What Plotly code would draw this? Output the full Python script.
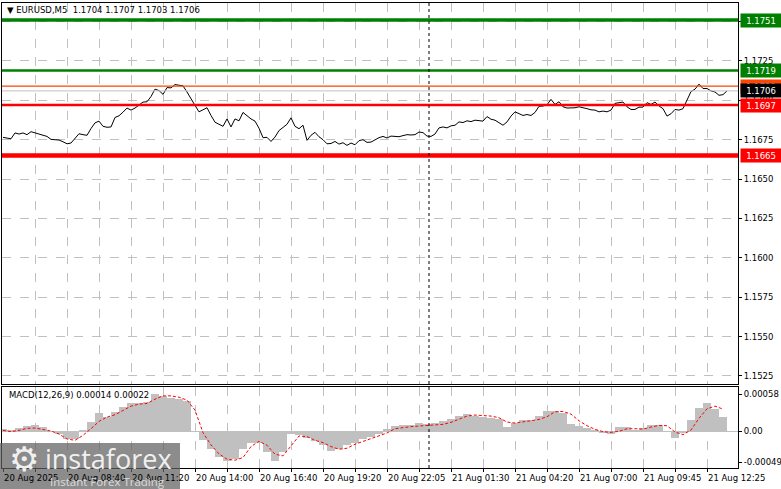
import plotly.graph_objects as go
from plotly.subplots import make_subplots

# ---------------- data ----------------
symbol_title = "▼ EURUSD,M5  1.1704 1.1707 1.1703 1.1706"
macd_title = "MACD(12,26,9) 0.00014 0.00022"

# bar index (5-minute bars) of each sampled close
price_idx = list(range(0, 364, 2))
price_close = [
    1.16765, 1.16761, 1.16756, 1.16793, 1.16786, 1.16793, 1.16782, 1.16801, 1.16793, 1.16784,
    1.16778, 1.16771, 1.16752, 1.16750, 1.16748, 1.16737, 1.16724, 1.16729, 1.16759, 1.16788,
    1.16782, 1.16778, 1.16821, 1.16857, 1.16868, 1.16835, 1.16829, 1.16831, 1.16891, 1.16902,
    1.16925, 1.16951, 1.16938, 1.16951, 1.16970, 1.16989, 1.16991, 1.17024, 1.17071, 1.17062,
    1.17038, 1.17081, 1.17079, 1.17100, 1.17096, 1.17092, 1.17053, 1.17006,
    1.16968, 1.16927, 1.16938, 1.16953, 1.16904, 1.16861, 1.16848, 1.16835, 1.16882, 1.16831,
    1.16882, 1.16870, 1.16923, 1.16900, 1.16882, 1.16868, 1.16823, 1.16763, 1.16765, 1.16739,
    1.16767, 1.16808, 1.16827, 1.16848, 1.16889, 1.16835, 1.16820, 1.16842, 1.16746, 1.16778,
    1.16797, 1.16769, 1.16750, 1.16724, 1.16726, 1.16739, 1.16722, 1.16731, 1.16714, 1.16729,
    1.16718, 1.16744, 1.16750, 1.16733, 1.16735,
    1.16750, 1.16763, 1.16771, 1.16761, 1.16773, 1.16769, 1.16769, 1.16776, 1.16782, 1.16780,
    1.16782, 1.16799, 1.16795, 1.16773, 1.16771, 1.16786, 1.16825, 1.16831, 1.16825, 1.16838,
    1.16842, 1.16863, 1.16859, 1.16870, 1.16865, 1.16874, 1.16872, 1.16868, 1.16897, 1.16880,
    1.16874, 1.16859, 1.16842, 1.16863, 1.16900, 1.16927, 1.16917, 1.16904, 1.16910, 1.16904,
    1.16923, 1.16962, 1.16964, 1.16972, 1.17006, 1.16974, 1.16991,
    1.16959, 1.16951, 1.16951, 1.16953, 1.16959, 1.16955, 1.16947, 1.16940, 1.16938, 1.16927,
    1.16932, 1.16927, 1.16938, 1.16981, 1.16987, 1.16989, 1.16959, 1.16942, 1.16942, 1.16957,
    1.16957, 1.16985, 1.16974, 1.16989, 1.16964, 1.16947, 1.16900, 1.16915, 1.16942, 1.16938,
    1.16947, 1.17002, 1.17056, 1.17071, 1.17103, 1.17075, 1.17075, 1.17060, 1.17053, 1.17032,
    1.17036, 1.17060,
]

macd_idx = list(range(0, 364, 4))
macd_hist = [
    0.000036, 0.000021, 0.000047, 0.000073, 0.000094, 0.000068, -0.000010, -0.000052, -0.000130, -0.000130,
    0.000016, 0.000135, 0.000281, 0.000224, 0.000302, 0.000380, 0.000437, 0.000432, 0.000458, 0.000588,
    0.000551, 0.000520, 0.000499, 0.000468, -0.000010, -0.000140, -0.000281, -0.000411, -0.000478, -0.000437,
    -0.000286, -0.000182, -0.000187, -0.000328, -0.000468, -0.000322, -0.000052, -0.000057, -0.000114, -0.000151,
    -0.000213, -0.000307, -0.000276, -0.000218, -0.000192, -0.000130, -0.000088, -0.000042, 0.000026,
    0.000073, 0.000088, 0.000094, 0.000120, 0.000109, 0.000130, 0.000161, 0.000192, 0.000229, 0.000265,
    0.000234, 0.000218, 0.000208, 0.000187, 0.000057, 0.000130, 0.000166, 0.000166, 0.000239, 0.000307,
    0.000317, 0.000276, 0.000114, 0.000073, 0.000042, 0.000010, -0.000026, -0.000047, 0.000062, 0.000068,
    0.000016, 0.000052, 0.000099, 0.000099, -0.000010, -0.000109, -0.000026, 0.000172, 0.000354, 0.000437,
    0.000338, 0.000224,
]
macd_signal = [
    0.000010, -0.000010, 0.000010, 0.000042, 0.000047, 0.000026, 0.000000, -0.000047, -0.000125, -0.000146,
    -0.000068, 0.000036, 0.000151, 0.000218, 0.000255, 0.000322, 0.000390, 0.000421, 0.000432, 0.000499,
    0.000551, 0.000551, 0.000530, 0.000484, 0.000328, -0.000026, -0.000218, -0.000359, -0.000442, -0.000458,
    -0.000416, -0.000244, -0.000161, -0.000224, -0.000364, -0.000390, -0.000234, -0.000078, -0.000088, -0.000146,
    -0.000182, -0.000244, -0.000286, -0.000270, -0.000208, -0.000161, -0.000120, -0.000068, -0.000031,
    0.000036, 0.000057, 0.000068, 0.000078, 0.000083, 0.000088, 0.000104, 0.000135, 0.000187, 0.000234,
    0.000250, 0.000244, 0.000234, 0.000208, 0.000140, 0.000125, 0.000140, 0.000161, 0.000182, 0.000224,
    0.000302, 0.000307, 0.000265, 0.000161, 0.000083, 0.000026, -0.000010, -0.000021, -0.000005, 0.000036,
    0.000036, 0.000031, 0.000062, 0.000088, 0.000083, -0.000016, -0.000057, 0.000016, 0.000198, 0.000348,
    0.000390, 0.000343,
]

price_ticks = [1.1525, 1.1550, 1.1575, 1.1600, 1.1625, 1.1650, 1.1675, 1.1700, 1.1725, 1.1750]
macd_ticks = [0.00058, 0.0, -0.00049]
macd_tick_text = ["0.00058", "0.00", "-0.00049"]

time_tick_idx = [0, 32, 64, 96, 128, 160, 192, 224, 256, 288, 320, 352]
time_tick_text = ["20 Aug 2025", "20 Aug 08:40", "20 Aug 11:20", "20 Aug 14:00", "20 Aug 16:40",
                  "20 Aug 19:20", "20 Aug 22:05", "21 Aug 01:30", "21 Aug 04:20", "21 Aug 07:00",
                  "21 Aug 09:45", "21 Aug 12:25"]
day_separator_idx = 213

level_values = [1.1751, 1.1719, 1.1697, 1.1665]
level_colors = ["#007F00", "#007F00", "#FF0000", "#FF0000"]
level_widths = [3.5, 2.5, 2.5, 4.5]
ask_level = 1.1709
bid_level = 1.1706

# ---------------- figure ----------------
W, H = 781, 489
def py(p):
    return 1 - p / H
def px(p):
    return p / W

FONT = "DejaVu Sans"
FS = 8.5
GRID = "#C0C0C0"

fig = make_subplots(rows=2, cols=1, shared_xaxes=True, vertical_spacing=0)

fig.add_trace(go.Scatter(x=price_idx, y=price_close, mode="lines",
                         line=dict(color="black", width=1), hoverinfo="skip"), row=1, col=1)
fig.add_trace(go.Bar(x=macd_idx, y=macd_hist, width=4,
                     marker=dict(color="#C0C0C0", line=dict(width=0))), row=2, col=1)
fig.add_trace(go.Scatter(x=macd_idx, y=macd_signal, mode="lines",
                         line=dict(color="#FF0000", width=1, dash="3px,2px")), row=2, col=1)

xcommon = dict(range=[-0.5, 367.5], domain=[px(2), px(738)], showline=True, mirror=True,
               linecolor="black", linewidth=1, zeroline=False, tick0=0, dtick=16,
               showgrid=True, gridcolor=GRID, griddash="dash", gridwidth=1,
               showticklabels=False, ticks="", automargin=False)
fig.update_layout(xaxis=xcommon, xaxis2=dict(xcommon, ticks="outside", ticklen=3, tickcolor="black"))

fig.update_layout(
    yaxis=dict(domain=[py(384), py(3)], range=[1.15199, 1.17618], side="right",
               tickvals=price_ticks, ticktext=[f"{v:.4f}" for v in price_ticks],
               ticks="outside", ticklen=3, tickcolor="black", automargin=False,
               tickfont=dict(family=FONT, size=FS, color="black"),
               showgrid=True, gridcolor=GRID, griddash="dash", zeroline=False,
               showline=True, mirror=True, linecolor="black", linewidth=1),
    yaxis2=dict(domain=[py(468), py(387)], range=[-0.00058, 0.00069], side="right",
                tickvals=macd_ticks, ticktext=macd_tick_text,
                ticks="outside", ticklen=3, tickcolor="black", automargin=False,
                tickfont=dict(family=FONT, size=FS, color="black"),
                showgrid=False, zeroline=True, zerolinecolor=GRID, zerolinewidth=1,
                showline=True, mirror=True, linecolor="black", linewidth=1),
    width=W, height=H, margin=dict(l=0, r=0, t=0, b=0, autoexpand=False),
    paper_bgcolor="white", plot_bgcolor="white", showlegend=False, bargap=0,
)

shapes = []
for v, c, w in zip(level_values, level_colors, level_widths):
    shapes.append(dict(type="line", xref="paper", yref="y", x0=px(2), x1=px(738), y0=v, y1=v,
                       line=dict(color=c, width=w)))
shapes.append(dict(type="line", xref="paper", yref="y", x0=px(2), x1=px(738), y0=ask_level, y1=ask_level,
                   line=dict(color="#FF4500", width=1.2)))
shapes.append(dict(type="line", xref="paper", yref="y", x0=px(2), x1=px(738), y0=bid_level, y1=bid_level,
                   line=dict(color="#C0C0C0", width=1)))
shapes.append(dict(type="line", xref="x", yref="paper", x0=day_separator_idx, x1=day_separator_idx,
                   y0=py(468), y1=py(3), line=dict(color="black", width=1, dash="3px,3px")))
shapes.append(dict(type="rect", xref="paper", yref="paper", x0=0, x1=px(180), y0=0, y1=py(443),
                   fillcolor="rgba(95,95,95,0.72)", line=dict(width=0), layer="above"))
fig.update_layout(shapes=shapes)

ann = []
ann.append(dict(text=symbol_title, xref="paper", yref="paper", x=px(5), y=py(10),
                xanchor="left", yanchor="middle", showarrow=False,
                font=dict(family=FONT, size=FS, color="black")))
ann.append(dict(text=macd_title, xref="paper", yref="paper", x=px(7), y=py(395),
                xanchor="left", yanchor="middle", showarrow=False,
                font=dict(family=FONT, size=FS, color="black")))
for i, t in zip(time_tick_idx, time_tick_text):
    ann.append(dict(text=t, xref="x2", yref="paper", x=i, y=py(478), xanchor="left",
                    yanchor="middle", showarrow=False, xshift=-1,
                    font=dict(family=FONT, size=FS, color="black")))

def level_box(v, color):
    return dict(text=f"{v:.4f}", xref="paper", yref="y", x=px(740), y=v, xanchor="left",
                yanchor="middle", showarrow=False, bgcolor=color, width=38, height=11,
                borderpad=1, font=dict(family=FONT, size=FS, color="white"))

for v, c in zip(level_values, level_colors):
    ann.append(level_box(v, c))
ann.append(level_box(ask_level, "#FF4500"))
ann.append(level_box(bid_level, "#000000"))

ann.append(dict(text="⚙", xref="paper", yref="paper", x=px(24), y=py(459), xanchor="center",
                yanchor="middle", showarrow=False, font=dict(family=FONT, size=34, color="rgba(255,255,255,0.9)")))
ann.append(dict(text="instaforex", xref="paper", yref="paper", x=px(43), y=py(458), xanchor="left",
                yanchor="middle", showarrow=False, font=dict(family="Open Sans", size=27, color="rgba(255,255,255,0.9)")))
ann.append(dict(text="Instant Forex Trading", xref="paper", yref="paper", x=px(48), y=py(481), xanchor="left",
                yanchor="middle", showarrow=False, font=dict(family="Open Sans", size=11.5, color="rgba(230,230,230,0.9)")))
fig.update_layout(annotations=ann)

fig.write_html("out.html", config={"displayModeBar": False, "staticPlot": True},
               post_script="document.body.style.margin='0';document.body.style.overflow='hidden';")
